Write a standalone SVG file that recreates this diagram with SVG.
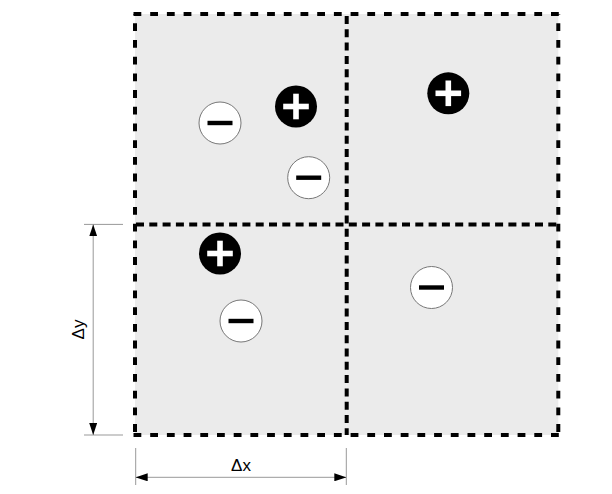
<svg xmlns="http://www.w3.org/2000/svg" xmlns:xlink="http://www.w3.org/1999/xlink" width="612" height="494" viewBox="0 0 612 494">
<style>
.cell{fill:#ebebeb;stroke:none}
.outer{stroke:#000;stroke-width:4;fill:none;stroke-dasharray:7.8 8.9}
.inner{stroke:#000;stroke-width:4;fill:none;stroke-dasharray:8 5.3}
.dim{stroke:#999;stroke-width:1;fill:none}
.neg{fill:#fff;stroke:#777;stroke-width:1}
.pos{fill:#000;stroke:none}
.lbl{font-family:"Liberation Sans",Arial,sans-serif;font-size:17px;fill:#000}
</style>
<defs>
<marker id="arr" viewBox="0 0 12 8" refX="12" refY="4" markerWidth="12" markerHeight="8" markerUnits="userSpaceOnUse" orient="auto-start-reverse">
<path d="M0,0 L12,4 L0,8 z" fill="#000"/>
</marker>
<g id="plusSym">
<circle class="pos" r="21"/>
<rect x="-12.8" y="-2.8" width="25.6" height="5.6" fill="#fff"/>
<rect x="-2.8" y="-12.8" width="5.6" height="25.6" fill="#fff"/>
</g>
<g id="minusSym">
<circle class="neg" r="21"/>
<rect x="-12.5" y="-2.2" width="25" height="4.4" fill="#000"/>
</g>
</defs>
<rect width="612" height="494" fill="#fff"/>
<g id="cell-tl"><rect class="cell" x="135" y="14" width="211.7" height="210.5"/></g>
<g id="cell-tr"><rect class="cell" x="346.7" y="14" width="211.6" height="210.5"/></g>
<g id="cell-bl"><rect class="cell" x="135" y="224.5" width="211.7" height="210.5"/></g>
<g id="cell-br"><rect class="cell" x="346.7" y="224.5" width="211.6" height="210.5"/></g>
<g id="grid">
<line class="outer" x1="133.5" y1="14" x2="560" y2="14"/>
<line class="outer" x1="133.5" y1="435" x2="560" y2="435"/>
<line class="outer" x1="135" y1="14" x2="135" y2="437" stroke-dashoffset="7.4"/>
<line class="outer" x1="558.3" y1="14" x2="558.3" y2="437" stroke-dashoffset="7.4"/>
<line class="inner" x1="135" y1="224.4" x2="558.3" y2="224.4" stroke-dashoffset="-1"/>
<line class="inner" x1="346.7" y1="14" x2="346.7" y2="435" stroke-dashoffset="-2"/>
</g>
<g id="charge-1"><use xlink:href="#minusSym" transform="translate(220,123)"/></g>
<g id="charge-2"><use xlink:href="#plusSym" transform="translate(296,106.5)"/></g>
<g id="charge-3"><use xlink:href="#minusSym" transform="translate(308.7,177.7)"/></g>
<g id="charge-4"><use xlink:href="#plusSym" transform="translate(448.3,93.3)"/></g>
<g id="charge-5"><use xlink:href="#plusSym" transform="translate(220,253.5)"/></g>
<g id="charge-6"><use xlink:href="#minusSym" transform="translate(241,321)"/></g>
<g id="charge-7"><use xlink:href="#minusSym" transform="translate(431.5,287.5)"/></g>
<g id="connectors">
<line class="dim" x1="84" y1="224.4" x2="123" y2="224.4"/>
<line class="dim" x1="84" y1="435" x2="123" y2="435"/>
<line class="dim" x1="93.2" y1="224.4" x2="93.2" y2="435" marker-start="url(#arr)" marker-end="url(#arr)"/>
<line class="dim" x1="135.7" y1="448" x2="135.7" y2="485"/>
<line class="dim" x1="346.3" y1="448" x2="346.3" y2="485"/>
<line class="dim" x1="135.7" y1="477.3" x2="346.3" y2="477.3" marker-start="url(#arr)" marker-end="url(#arr)"/>
</g>
<g id="labels">
<text class="lbl" x="241" y="470.7" text-anchor="middle">Δx</text>
<text class="lbl" transform="translate(83.5,329.5) rotate(-90)" text-anchor="middle">Δy</text>
</g>
</svg>
